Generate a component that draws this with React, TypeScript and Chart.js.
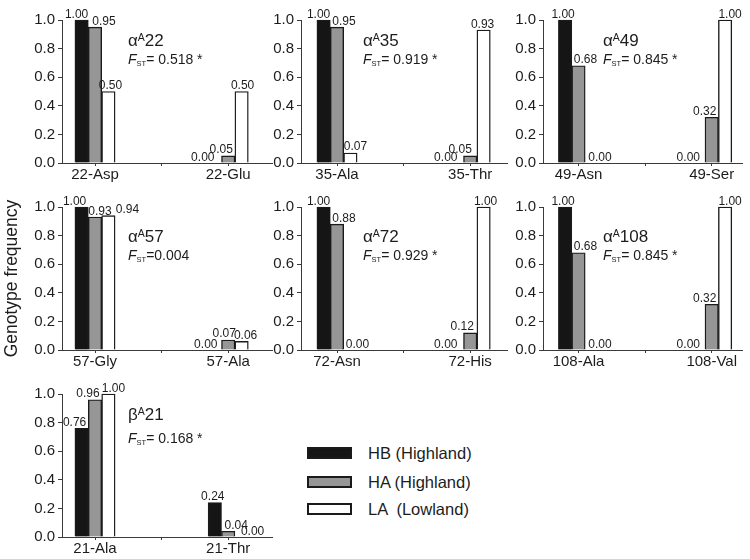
import React, { useEffect, useRef } from 'react';
import { Chart, registerables } from 'chart.js';

Chart.register(...registerables);

// ---------------- data ----------------
const cat22 = ['22-Asp', '22-Glu'];
const hb22 = [1.0, 0.0];
const ha22 = [0.95, 0.05];
const la22 = [0.5, 0.5];

const cat35 = ['35-Ala', '35-Thr'];
const hb35 = [1.0, 0.0];
const ha35 = [0.95, 0.05];
const la35 = [0.07, 0.93];

const cat49 = ['49-Asn', '49-Ser'];
const hb49 = [1.0, 0.0];
const ha49 = [0.68, 0.32];
const la49 = [0.0, 1.0];

const cat57 = ['57-Gly', '57-Ala'];
const hb57 = [1.0, 0.0];
const ha57 = [0.93, 0.07];
const la57 = [0.94, 0.06];

const cat72 = ['72-Asn', '72-His'];
const hb72 = [1.0, 0.0];
const ha72 = [0.88, 0.12];
const la72 = [0.0, 1.0];

const cat108 = ['108-Ala', '108-Val'];
const hb108 = [1.0, 0.0];
const ha108 = [0.68, 0.32];
const la108 = [0.0, 1.0];

const cat21 = ['21-Ala', '21-Thr'];
const hb21 = [0.76, 0.24];
const ha21 = [0.96, 0.04];
const la21 = [1.0, 0.0];

const fstTexts = ['= 0.518 *', '= 0.919 *', '= 0.845 *', '=0.004', '= 0.929 *', '= 0.845 *', '= 0.168 *'];
const seriesNames = ['HB (Highland)', 'HA (Highland)', 'LA  (Lowland)'];
const yTickValues = [0, 0.2, 0.4, 0.6, 0.8, 1.0];
const yTitle = 'Genotype frequency';

const PANELS = [
  { greek: 'α', sup: 'A', site: '22', fst: fstTexts[0], cats: cat22, series: [hb22, ha22, la22] },
  { greek: 'α', sup: 'A', site: '35', fst: fstTexts[1], cats: cat35, series: [hb35, ha35, la35] },
  { greek: 'α', sup: 'A', site: '49', fst: fstTexts[2], cats: cat49, series: [hb49, ha49, la49] },
  { greek: 'α', sup: 'A', site: '57', fst: fstTexts[3], cats: cat57, series: [hb57, ha57, la57] },
  { greek: 'α', sup: 'A', site: '72', fst: fstTexts[4], cats: cat72, series: [hb72, ha72, la72] },
  { greek: 'α', sup: 'A', site: '108', fst: fstTexts[5], cats: cat108, series: [hb108, ha108, la108] },
  { greek: 'β', sup: 'A', site: '21', fst: fstTexts[6], cats: cat21, series: [hb21, ha21, la21] },
];

// ---------------- styles / layout ----------------
const FONT = '"Liberation Sans", Arial, Helvetica, sans-serif';
const TEXT = '#1c1c1c';
const AXIS = '#3a3a3a';
const BAR_EDGE = '#1a1a1a';
const FILLS = ['#151515', '#969696', '#ffffff'];

const PLOT_H = 143;
const CAT_W = 66.6;
const BAR_W = 13.4;
const Y_AXIS_W = 60;
const X_AXIS_H = 24;
const PAD_TOP = 20;
const PAD_RIGHT = 8;

const COLS = [
  { axisX: 62, first: 33, len: 210, annX: 66 },
  { axisX: 301, first: 36, len: 206, annX: 62 },
  { axisX: 543, first: 35.5, len: 199, annX: 60 },
];
const ROWS = [
  { top: 20, nameY: 0.82, fstY: 0.69 },
  { top: 207, nameY: 0.755, fstY: 0.63 },
  { top: 394, nameY: 0.82, fstY: 0.66 },
];
const GRID_POS = [[0, 0], [0, 1], [0, 2], [1, 0], [1, 1], [1, 2], [2, 0]];
// horizontal nudges of value labels (group, series)
const LABEL_SHIFT = [
  [[-5, 9, 2], [-12, -7, 1]],
  [[-5, 7, 5], [-11, -10, -1]],
  [[-2, 7, 8], [-10, -7, 5]],
  [[-7, 5, 19], [-9, -4, 4]],
  [[-5, 7, 7], [-11, -8, 2]],
  [[-2, 7, 8], [-10, -7, 5]],
  [[-7, -7, 5], [-2, 8, 11]],
];

type Part = { text: string; font: string; dy?: number };

function drawRich(ctx: CanvasRenderingContext2D, x: number, y: number, parts: Part[]) {
  let cx = x;
  for (const p of parts) {
    ctx.font = p.font;
    ctx.fillText(p.text, cx, y + (p.dy || 0));
    cx += ctx.measureText(p.text).width;
  }
}

function makeValuePlugin(shift: number[][]) {
  return {
    id: 'valueLabels',
    afterDatasetsDraw(chart: any) {
      const ctx: CanvasRenderingContext2D = chart.ctx;
      ctx.save();
      ctx.font = `12px ${FONT}`;
      ctx.fillStyle = TEXT;
      ctx.textAlign = 'center';
      ctx.textBaseline = 'alphabetic';
      chart.data.datasets.forEach((ds: any, si: number) => {
        const meta = chart.getDatasetMeta(si);
        meta.data.forEach((el: any, gi: number) => {
          const v = ds.data[gi].y as number;
          ctx.fillText(v.toFixed(2), el.x + shift[gi][si], el.y - 2.5);
        });
      });
      ctx.restore();
    },
  };
}

function makeAnnotationPlugin(panel: any, annX: number, row: any) {
  return {
    id: 'panelAnnotation',
    afterDraw(chart: any) {
      const ctx: CanvasRenderingContext2D = chart.ctx;
      const y = chart.scales.y;
      const x0 = chart.chartArea.left + annX;
      ctx.save();
      ctx.fillStyle = TEXT;
      ctx.textAlign = 'left';
      ctx.textBaseline = 'alphabetic';
      drawRich(ctx, x0, y.getPixelForValue(row.nameY), [
        { text: panel.greek, font: `17px ${FONT}` },
        { text: panel.sup, font: `10.5px ${FONT}`, dy: -5 },
        { text: panel.site, font: `17px ${FONT}` },
      ]);
      drawRich(ctx, x0, y.getPixelForValue(row.fstY), [
        { text: 'F', font: `italic 14px ${FONT}` },
        { text: 'ST', font: `7.5px ${FONT}`, dy: 2 },
        { text: panel.fst, font: `14px ${FONT}` },
      ]);
      ctx.restore();
    },
  };
}

function PanelChart({ index }: { index: number }) {
  const ref = useRef<HTMLCanvasElement>(null);
  const panel = PANELS[index];
  const [ri, ci] = GRID_POS[index];
  const c = COLS[ci];
  const r = ROWS[ri];
  const left = c.axisX - Y_AXIS_W;
  const top = r.top - PAD_TOP;
  const width = Y_AXIS_W + c.len + PAD_RIGHT;
  const height = PAD_TOP + PLOT_H + X_AXIS_H;
  const showTitle = index === 3;

  useEffect(() => {
    if (!ref.current) return;
    const xMin = -c.first / CAT_W;
    const xMax = xMin + c.len / CAT_W;
    const chart = new Chart(ref.current, {
      type: 'bar',
      data: {
        datasets: panel.series.map((vals: number[], si: number) => ({
          label: seriesNames[si],
          data: vals.map((v, i) => ({ x: i * 2, y: v })),
          backgroundColor: FILLS[si],
          borderColor: BAR_EDGE,
          borderWidth: 1.4,
          borderSkipped: 'start',
          barThickness: BAR_W,
          clip: false,
        })),
      },
      options: {
        responsive: false,
        animation: false,
        devicePixelRatio: 1,
        layout: { padding: { top: PAD_TOP, right: PAD_RIGHT, left: 0, bottom: 0 } },
        plugins: {
          legend: { display: false },
          tooltip: { enabled: false },
          title: { display: false },
        },
        scales: {
          x: {
            type: 'linear',
            min: xMin,
            max: xMax,
            offset: false,
            grid: { offset: false, drawOnChartArea: false, tickLength: 3, color: AXIS, lineWidth: 1 },
            border: { display: true, color: AXIS, width: 1 },
            afterBuildTicks: (s: any) => {
              s.ticks = [0, 1, 2].map((v) => ({ value: v }));
            },
            ticks: {
              autoSkip: false,
              maxRotation: 0,
              padding: 0,
              color: TEXT,
              font: { family: FONT, size: 15 },
              callback: (v: any) => (v === 0 ? panel.cats[0] : v === 2 ? panel.cats[1] : ''),
            },
            afterFit: (s: any) => {
              s.height = X_AXIS_H;
            },
          },
          y: {
            type: 'linear',
            min: 0,
            max: 1,
            grid: { drawOnChartArea: false, tickLength: 4, color: AXIS, lineWidth: 1 },
            border: { display: true, color: AXIS, width: 1 },
            afterBuildTicks: (s: any) => {
              s.ticks = yTickValues.map((v) => ({ value: v }));
            },
            ticks: {
              padding: 3,
              color: TEXT,
              font: { family: FONT, size: 15 },
              callback: (v: any) => Number(v).toFixed(1),
            },
            title: showTitle
              ? { display: true, text: yTitle, color: TEXT, font: { family: FONT, size: 17.5 }, padding: { top: 0, bottom: 0 } }
              : { display: false },
            afterFit: (s: any) => {
              s.width = Y_AXIS_W;
            },
          },
        },
      } as any,
      plugins: [makeValuePlugin(LABEL_SHIFT[index]), makeAnnotationPlugin(panel, c.annX, r)],
    });
    return () => chart.destroy();
  }, []);

  return (
    <canvas
      ref={ref}
      width={width}
      height={height}
      style={{ position: 'absolute', left, top, width, height }}
    />
  );
}

const LEGEND_ROWS = [
  { boxTop: 447, center: 453 },
  { boxTop: 476, center: 481.5 },
  { boxTop: 503, center: 509 },
];

export default function App() {
  return (
    <div
      style={{
        position: 'absolute',
        left: 0,
        top: 0,
        width: 750,
        height: 559,
        overflow: 'hidden',
        background: '#ffffff',
      }}
    >
      {PANELS.map((_, i) => (
        <PanelChart key={i} index={i} />
      ))}
      {seriesNames.map((name, i) => (
        <React.Fragment key={name}>
          <div
            style={{
              position: 'absolute',
              left: 307,
              top: LEGEND_ROWS[i].boxTop,
              width: 45,
              height: 12,
              boxSizing: 'border-box',
              border: `2px solid ${BAR_EDGE}`,
              background: FILLS[i],
            }}
          />
          <div
            style={{
              position: 'absolute',
              left: 368,
              top: LEGEND_ROWS[i].center - 10,
              height: 20,
              lineHeight: '20px',
              fontFamily: FONT,
              fontSize: 16.5,
              color: TEXT,
              whiteSpace: 'pre',
            }}
          >
            {name}
          </div>
        </React.Fragment>
      ))}
    </div>
  );
}
